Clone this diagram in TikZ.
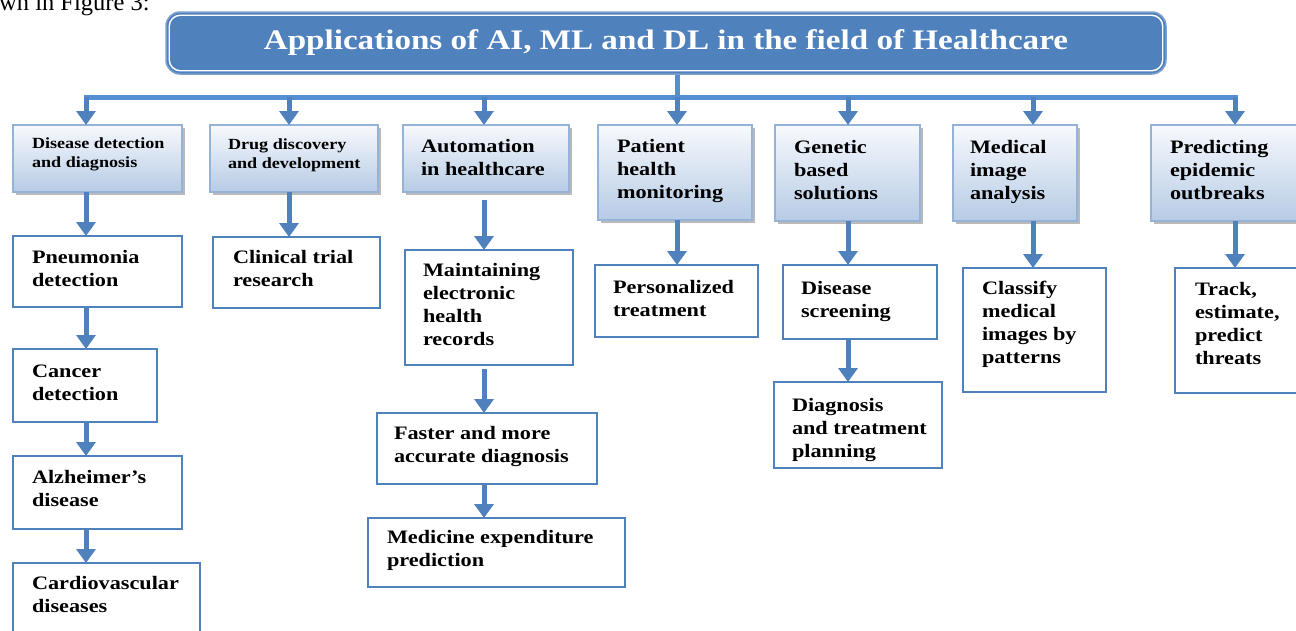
\documentclass[tikz,border=0pt]{standalone}
\usepackage{fontspec}
\newfontfamily\dfont{Liberation Serif}[FakeStretch=1.17]
\newfontfamily\pfont{Liberation Serif}
\usetikzlibrary{arrows.meta,shadows}
\definecolor{cblue}{RGB}{79,129,189}
\definecolor{cbus}{RGB}{86,142,211}
\definecolor{ctop}{RGB}{247,249,253}
\definecolor{cbot}{RGB}{182,203,229}
\definecolor{cedge}{RGB}{149,179,215}
\definecolor{ctedge}{RGB}{125,160,205}
\newcommand\txt[1]{\begin{tabular}[t]{@{}l@{}}#1\end{tabular}}
\begin{document}
\begin{tikzpicture}[x=1pt,y=-1pt,
  wh/.style 2 args={minimum width=#1pt, minimum height=#2pt},
  cat/.style={draw=cedge, line width=1.2pt, top color=ctop, bottom color=cbot,
    drop shadow={shadow xshift=3pt, shadow yshift=-3pt, fill=black!45, opacity=0.6},
    anchor=north west, inner sep=0pt, outer sep=0pt},
  sub/.style={draw=cblue, line width=2.6pt, fill=white, anchor=north west,
    inner sep=0pt, outer sep=0pt},
  lbl/.style={anchor=base west, inner sep=0pt, outer sep=0pt,
    font=\dfont\bfseries\fontsize{19}{23}\selectfont},
  slbl/.style={anchor=base west, inner sep=0pt, outer sep=0pt,
    font=\dfont\bfseries\fontsize{15.5}{19}\selectfont},
  arr/.style={draw=cblue, line width=5pt, -{Triangle[width=19pt,length=14pt]}},
  bus/.style={draw=cbus, line width=5pt},
]
\useasboundingbox (0,0) rectangle (1296,630);

% fragment of page text
\node[anchor=base west, inner sep=0pt, font=\pfont\fontsize{24.5}{28}\selectfont] (pg) at (-1,10) {wn in Figure 3:};

% title
\node[fill=cblue, draw=ctedge, line width=1.5pt, rounded corners=14pt, wh={1000}{62},
  inner sep=0pt, text=white, font=\dfont\bfseries\fontsize{28.3}{30}\selectfont] (title) at (666,43)
  {Applications of AI, ML and DL in the field of Healthcare};
\draw[white, line width=1.4pt, rounded corners=11pt]
  ([shift={(4pt,-4pt)}]title.north west) rectangle ([shift={(-4pt,4pt)}]title.south east);

% category boxes
\node[cat, wh={169}{67}, label={[slbl, xshift=19pt, yshift=-23pt]north west:\txt{Disease detection\\and diagnosis}}] (c1) at (13,125) {};
\node[cat, wh={168}{67}, label={[slbl, xshift=18pt, yshift=-24pt]north west:\txt{Drug discovery\\and development}}] (c2) at (210,125) {};
\node[cat, wh={166}{67}, label={[lbl, xshift=18pt, yshift=-27pt]north west:\txt{Automation\\in healthcare}}] (c3) at (403,125) {};
\node[cat, wh={154}{95}, label={[lbl, xshift=19pt, yshift=-27pt]north west:\txt{Patient\\health\\monitoring}}] (c4) at (598,125) {};
\node[cat, wh={145}{96}, label={[lbl, xshift=19pt, yshift=-28pt]north west:\txt{Genetic\\based\\solutions}}] (c5) at (775,125) {};
\node[cat, wh={124}{96}, label={[lbl, xshift=17pt, yshift=-28pt]north west:\txt{Medical\\image\\analysis}}] (c6) at (953,125) {};
\node[cat, wh={151}{96}, label={[lbl, xshift=19pt, yshift=-28pt]north west:\txt{Predicting\\epidemic\\outbreaks}}] (c7) at (1151,125) {};

% sub boxes
\node[sub, wh={169}{71}, label={[lbl, xshift=19pt, yshift=-27pt]north west:\txt{Pneumonia\\detection}}] (s1a) at (13,236) {};
\node[sub, wh={144}{73}, label={[lbl, xshift=19pt, yshift=-28pt]north west:\txt{Cancer\\detection}}] (s1b) at (13,349) {};
\node[sub, wh={169}{73}, label={[lbl, xshift=19pt, yshift=-27pt]north west:\txt{Alzheimer’s\\disease}}] (s1c) at (13,456) {};
\node[sub, wh={187}{80}, label={[lbl, xshift=19pt, yshift=-26pt]north west:\txt{Cardiovascular\\diseases}}] (s1d) at (13,563) {};
\node[sub, wh={167}{71}, label={[lbl, xshift=20pt, yshift=-26pt]north west:\txt{Clinical trial\\research}}] (s2) at (213,237) {};
\node[sub, wh={168}{115}, label={[lbl, xshift=18pt, yshift=-26pt]north west:\txt{Maintaining\\electronic\\health\\records}}] (s3a) at (405,250) {};
\node[sub, wh={220}{71}, label={[lbl, xshift=17pt, yshift=-26pt]north west:\txt{Faster and more\\accurate diagnosis}}] (s3b) at (377,413) {};
\node[sub, wh={257}{69}, label={[lbl, xshift=19pt, yshift=-25pt]north west:\txt{Medicine expenditure\\prediction}}] (s3c) at (368,518) {};
\node[sub, wh={163}{72}, label={[lbl, xshift=18pt, yshift=-28pt]north west:\txt{Personalized\\treatment}}] (s4) at (595,265) {};
\node[sub, wh={154}{74}, label={[lbl, xshift=18pt, yshift=-29pt]north west:\txt{Disease\\screening}}] (s5a) at (783,265) {};
\node[sub, wh={168}{86}, label={[lbl, xshift=18pt, yshift=-29pt]north west:\txt{Diagnosis\\and treatment\\planning}}] (s5b) at (774,382) {};
\node[sub, wh={143}{124}, label={[lbl, xshift=19pt, yshift=-26pt]north west:\txt{Classify\\medical\\images by\\patterns}}] (s6) at (963,268) {};
\node[sub, wh={127}{125}, label={[lbl, xshift=20pt, yshift=-27pt]north west:\txt{Track,\\estimate,\\predict\\threats}}] (s7) at (1175,268) {};

% bus junctions
\coordinate (b1) at (86,97);
\coordinate (b2) at (289,97);
\coordinate (b3) at (484,97);
\coordinate (b4) at (677,97);
\coordinate (b5) at (848,97);
\coordinate (b6) at (1033,97);
\coordinate (b7) at (1235,97);

\draw[bus] (title.south -| b4) -- (b4);
\draw[bus] ([xshift=-2.5pt]b1) -- ([xshift=2.5pt]b7);

\draw[arr] (b1) -- (b1 |- c1.north);
\draw[arr] (b2) -- (b2 |- c2.north);
\draw[arr] (b3) -- (b3 |- c3.north);
\draw[arr] (b4) -- (b4 |- c4.north);
\draw[arr] (b5) -- (b5 |- c5.north);
\draw[arr] (b6) -- (b6 |- c6.north);
\draw[arr] (b7) -- (b7 |- c7.north);

\draw[arr] (b1 |- c1.south) -- (b1 |- s1a.north);
\draw[arr] (b1 |- s1a.south) -- (b1 |- s1b.north);
\draw[arr] (b1 |- s1b.south) -- (b1 |- s1c.north);
\draw[arr] (b1 |- s1c.south) -- (b1 |- s1d.north);
\draw[arr] (b2 |- c2.south) -- (b2 |- s2.north);
\draw[arr, shorten <=8pt] (b3 |- c3.south) -- (b3 |- s3a.north);
\draw[arr, shorten <=4pt] (b3 |- s3a.south) -- (b3 |- s3b.north);
\draw[arr] (b3 |- s3b.south) -- (b3 |- s3c.north);
\draw[arr] (b4 |- c4.south) -- (b4 |- s4.north);
\draw[arr] (b5 |- c5.south) -- (b5 |- s5a.north);
\draw[arr] (b5 |- s5a.south) -- (b5 |- s5b.north);
\draw[arr] (b6 |- c6.south) -- (b6 |- s6.north);
\draw[arr] (b7 |- c7.south) -- (b7 |- s7.north);
\end{tikzpicture}
\end{document}
